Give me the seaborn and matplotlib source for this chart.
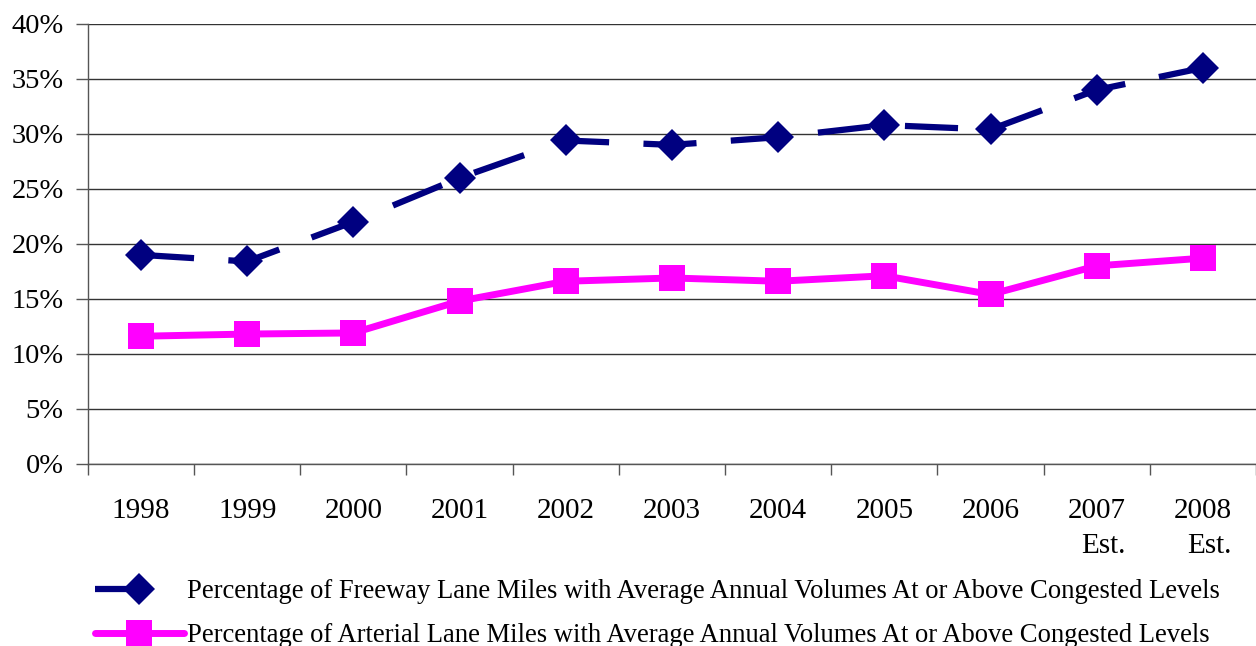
import pandas as pd
import seaborn as sns
import matplotlib.pyplot as plt
from matplotlib.ticker import FixedLocator, PercentFormatter

# Data
years = ["1998", "1999", "2000", "2001", "2002", "2003", "2004", "2005", "2006", "2007\nEst.", "2008\nEst."]
freeway = [19.0, 18.4, 22.0, 26.0, 29.4, 29.0, 29.7, 30.8, 30.4, 34.0, 36.0]
arterial = [11.6, 11.8, 11.9, 14.8, 16.6, 16.9, 16.6, 17.1, 15.4, 18.0, 18.7]
freeway_label = "Percentage of Freeway Lane Miles with Average Annual Volumes At or Above Congested Levels"
arterial_label = "Percentage of Arterial Lane Miles with Average Annual Volumes At or Above Congested Levels"

df = pd.DataFrame({"pos": range(len(years)), "freeway": freeway, "arterial": arterial})

sns.set_style("white")
plt.rcParams["font.family"] = ["Liberation Serif", "DejaVu Serif"]
plt.rcParams["text.color"] = "black"
plt.rcParams["xtick.color"] = "black"
plt.rcParams["ytick.color"] = "black"

fig = plt.figure(figsize=(12.56, 6.46), dpi=100)
ax = fig.add_axes([0.070, 0.282, 0.930, 0.681])

sns.lineplot(data=df, x="pos", y="freeway", ax=ax, color="#000080", lw=4.5,
             marker="D", markersize=16, markeredgewidth=0, label=freeway_label,
             dashes=False)
ax.lines[-1].set_dashes([8.5, 5.5])
sns.lineplot(data=df, x="pos", y="arterial", ax=ax, color="#FF00FF", lw=5,
             marker="s", markersize=19, markeredgewidth=0, label=arterial_label)

ax.set_xlim(-0.5, len(years) - 0.5)
ax.set_ylim(0, 40)
ax.set_yticks(range(0, 41, 5))
ax.yaxis.set_major_formatter(PercentFormatter(decimals=0))
ax.yaxis.grid(True, color="#333333", lw=1)
ax.set_axisbelow(True)

# tick marks between categories, labels at category centres
ax.xaxis.set_major_locator(FixedLocator([i - 0.5 for i in range(len(years) + 1)]))
ax.xaxis.set_minor_locator(FixedLocator(list(range(len(years)))))
ax.set_xticklabels([""] * (len(years) + 1))
ax.set_xticklabels(years, minor=True)
ax.tick_params(axis="x", which="major", length=8, width=1, color="#555555", direction="out", bottom=True)
ax.tick_params(axis="x", which="minor", length=0, pad=24.5, labelsize=21)
ax.tick_params(axis="y", length=9, width=1, color="#555555", direction="out", left=True, labelsize=20.5, pad=8.5)
for lab in ax.get_xticklabels(minor=True):
    lab.set_multialignment("right")
    lab.set_linespacing(1.45)

ax.set_xlabel("")
ax.set_ylabel("")
sns.despine(ax=ax, top=True, right=True)
for s in ["left", "bottom"]:
    ax.spines[s].set_color("#555555")
    ax.spines[s].set_linewidth(1)

leg = ax.legend(loc="upper left", bbox_to_anchor=(0.006, -0.262), frameon=False, fontsize=19.2,
                handlelength=3.33, handletextpad=0.12, labelspacing=0.72, borderaxespad=0,
                borderpad=0)
leg.get_lines()[0].set_dashes([8.5, 12])

fig.savefig("out.png", dpi=100)
plt.close(fig)
